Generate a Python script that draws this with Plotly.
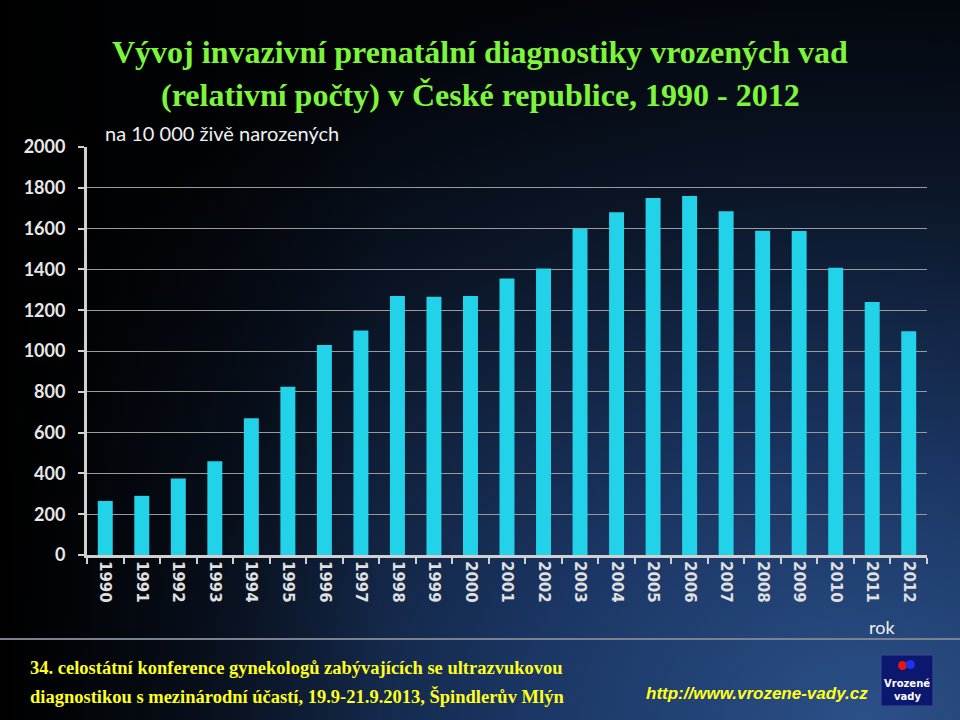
import plotly.graph_objects as go
import base64

years = [str(y) for y in range(1990, 2013)]
values = [265, 290, 375, 460, 670, 825, 1030, 1100, 1270, 1266, 1270, 1355,
          1405, 1600, 1680, 1750, 1760, 1685, 1590, 1588, 1408, 1240, 1097]
y_ticks = list(range(0, 2001, 200))

W, H = 960, 720
ML, MR, MT, MB = 87, 33, 147, 165
PW, PH = W - ML - MR, H - MT - MB

svg = f'''<svg xmlns="http://www.w3.org/2000/svg" width="{W}" height="{H}" viewBox="0 0 {W} {H}" preserveAspectRatio="none">
<defs>
<radialGradient id="g" cx="0.9" cy="1.0" r="1.05" fx="0.9" fy="1.0">
<stop offset="0" stop-color="#2b5088"/>
<stop offset="0.35" stop-color="#1a3562"/>
<stop offset="0.7" stop-color="#0b1628"/>
<stop offset="1" stop-color="#020408"/>
</radialGradient>
<linearGradient id="l" x1="0" y1="0" x2="1" y2="0">
<stop offset="0" stop-color="#000" stop-opacity="1"/>
<stop offset="0.12" stop-color="#000" stop-opacity="0.6"/>
<stop offset="0.4" stop-color="#000" stop-opacity="0"/>
</linearGradient>
</defs>
<rect width="{W}" height="{H}" fill="url(#g)"/>
<rect width="{W}" height="{H}" fill="url(#l)"/>
</svg>'''
bg_src = "data:image/svg+xml;base64," + base64.b64encode(svg.encode()).decode()

fig = go.Figure()
fig.add_trace(go.Bar(x=years, y=values, marker=dict(color="#22d2e9", line=dict(width=0)),
                     hoverinfo="x+y"))

fig.update_layout(
    width=W, height=H,
    margin=dict(l=ML, r=MR, t=MT, b=MB, pad=0),
    paper_bgcolor="#000000",
    plot_bgcolor="rgba(0,0,0,0)",
    bargap=0.59,
    showlegend=False,
    images=[dict(source=bg_src, xref="paper", yref="paper",
                 x=-ML / PW, y=1 + MT / PH, sizex=W / PW, sizey=H / PH,
                 xanchor="left", yanchor="top", sizing="stretch", layer="below")],
)

fig.update_yaxes(range=[0, 2000], tickvals=y_ticks, ticktext=[str(v) for v in y_ticks],
                 showgrid=True, gridcolor="#9a9a9a", gridwidth=1,
                 showline=True, linecolor="#d0d0d0", linewidth=3,
                 ticks="outside", ticklen=6, tickwidth=2, tickcolor="#d0d0d0",
                 ticklabelstandoff=9,
                 tickfont=dict(family="Lato", size=18, color="#e8e8e8", weight="bold"),
                 zeroline=False)
fig.update_xaxes(type="category", tickangle=90, tickson="boundaries",
                 showline=True, linecolor="#d0d0d0", linewidth=3,
                 ticks="outside", ticklen=6, tickwidth=2, tickcolor="#d0d0d0",
                 tickfont=dict(family="DejaVu Sans", size=15, color="#e0e0e0", weight="bold"),
                 showgrid=False)

title_font = dict(family="Liberation Serif", size=32, color="#7cf53a", weight="bold")
foot_font = dict(family="Liberation Serif", size=18.5, color="#ffff20", weight="bold")
ann = [
    dict(text="Vývoj invazivní prenatální diagnostiky vrozených vad", x=480, y=52, font=title_font),
    dict(text="(relativní počty) v České republice, 1990 - 2012", x=480, y=95, font=title_font),
    dict(text="na 10 000 živě narozených", x=103, y=133, xanchor="left",
         font=dict(family="Lato", size=20, color="#f0f0f0")),
    dict(text="rok", x=882, y=627,
         font=dict(family="Lato", size=18, color="#f0f0f0")),
    dict(text="34. celostátní konference gynekologů zabývajících se ultrazvukovou", x=28, y=668,
         xanchor="left", font=foot_font),
    dict(text="diagnostikou s mezinárodní účastí, 19.9-21.9.2013, Špindlerův Mlýn", x=28, y=696,
         xanchor="left", font=foot_font),
    dict(text="<i>http://www.vrozene-vady.cz</i>", x=870, y=693, xanchor="right",
         font=dict(family="Liberation Sans", size=17, color="#ffff20", weight="bold")),
    dict(text="Vrozené", x=907, y=683, font=dict(family="DejaVu Sans", size=10, color="#ffffff", weight="bold")),
    dict(text="vady", x=907, y=696, font=dict(family="DejaVu Sans", size=10, color="#ffffff", weight="bold")),
]
annotations = []
for a in ann:
    d = dict(xref="paper", yref="paper", showarrow=False, yanchor="middle")
    d.setdefault("xanchor", "center")
    d.update(a)
    d["x"] = (a["x"] - ML) / PW
    d["y"] = 1 - (a["y"] - MT) / PH
    annotations.append(d)
fig.update_layout(annotations=annotations)

def px(x0, y0, x1, y1):
    return dict(x0=(x0 - ML) / PW, x1=(x1 - ML) / PW,
                y0=1 - (y0 - MT) / PH, y1=1 - (y1 - MT) / PH)

shapes = [
    dict(type="line", xref="paper", yref="paper", line=dict(color="#7a8290", width=2), **px(0, 639, 960, 639)),
    dict(type="rect", xref="paper", yref="paper", fillcolor="#0c1870", line=dict(color="#3a4a90", width=1),
         **px(881, 655, 933, 706)),
    dict(type="circle", xref="paper", yref="paper", fillcolor="#e01818", line=dict(width=0),
         **px(898, 661, 907, 670)),
    dict(type="circle", xref="paper", yref="paper", fillcolor="#2030f0", line=dict(width=0),
         **px(906, 660, 915, 669)),
]
fig.update_layout(shapes=shapes)

fig.write_html("out.html", config={"displayModeBar": False})

with open("out.html", "r", encoding="utf-8") as f:
    html = f.read()
html = html.replace("<body>", '<body style="margin:0;padding:0;background:#000;overflow:hidden">', 1)
with open("out.html", "w", encoding="utf-8") as f:
    f.write(html)
